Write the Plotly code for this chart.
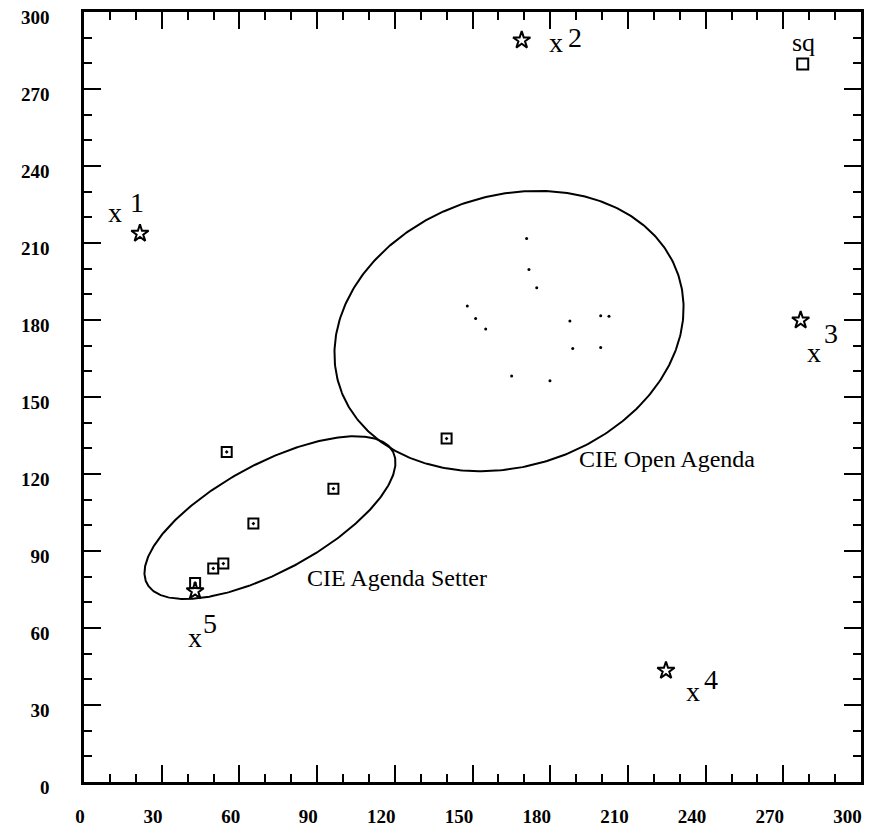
import numpy as np
import plotly.graph_objects as go

# ---- data ----
ideal_x = [21.6, 169.0, 276.7, 224.7, 42.9]
ideal_y = [213.7, 289.0, 179.9, 43.4, 74.4]
ideal_labels = ["1", "2", "3", "4", "5"]

agenda_x = [42.9, 49.9, 53.8, 55.1, 65.4, 96.3, 140.0]
agenda_y = [77.5, 83.2, 85.1, 128.6, 100.7, 114.3, 133.8]

sq_x = [277.5]
sq_y = [279.7]

open_x = [170.9, 171.8, 174.8, 148.0, 151.2, 155.1, 187.6, 199.5, 202.7, 188.7, 199.5, 165.1, 179.9]
open_y = [211.8, 199.7, 192.6, 185.5, 180.6, 176.5, 179.6, 181.7, 181.5, 168.9, 169.3, 158.2, 156.3]

# ellipses: center x, center y, semi-major, semi-minor, rotation (deg)
ellipse_names = ["CIE Open Agenda", "CIE Agenda Setter"]
ellipse_cx = [164.1, 71.8]
ellipse_cy = [175.7, 103.0]
ellipse_a = [68.9, 54.0]
ellipse_b = [52.7, 20.9]
ellipse_ang = [18.8, 28.6]
ellipse_label_x = [190.3, 85.3]
ellipse_label_y = [125.8, 79.5]

tick_vals = [0, 30, 60, 90, 120, 150, 180, 210, 240, 270, 300]
tick_text = ["0", "30", "60", "90", "120", "150", "180", "210", "240", "270", "300"]

# label offsets in pixels (styles/positions, not data)
x_off = [(-25, 21), (34, -2), (13, -32), (27, -21), (0, -46)]
n_off = [(-3, 31), (53, 3), (30, -13), (45, -9), (15, -32)]

fig = go.Figure()

t = np.linspace(0, 2 * np.pi, 400)
for cx, cy, a, b, ang in zip(ellipse_cx, ellipse_cy, ellipse_a, ellipse_b, ellipse_ang):
    th = np.deg2rad(ang)
    ex = cx + a * np.cos(t) * np.cos(th) - b * np.sin(t) * np.sin(th)
    ey = cy + a * np.cos(t) * np.sin(th) + b * np.sin(t) * np.cos(th)
    fig.add_trace(go.Scatter(x=ex, y=ey, mode="lines",
                             line=dict(color="black", width=2), hoverinfo="skip"))

fig.add_trace(go.Scatter(x=open_x, y=open_y, mode="markers",
                         marker=dict(symbol="circle", size=3, color="black")))
fig.add_trace(go.Scatter(x=agenda_x, y=agenda_y, mode="markers",
                         marker=dict(symbol="square-open-dot", size=10, color="black",
                                     line=dict(width=2, color="black"))))
fig.add_trace(go.Scatter(x=sq_x, y=sq_y, mode="markers",
                         marker=dict(symbol="square-open", size=11, color="black",
                                     line=dict(width=2, color="black"))))
fig.add_trace(go.Scatter(x=ideal_x, y=ideal_y, mode="markers",
                         marker=dict(symbol="star-open", size=13, color="black",
                                     line=dict(width=2, color="black"))))

ann_font = dict(family="Liberation Serif", size=28, color="black")
annotations = []
for xv, yv, lab, xo, no in zip(ideal_x, ideal_y, ideal_labels, x_off, n_off):
    annotations.append(dict(x=xv, y=yv, text="x", showarrow=False, font=ann_font,
                            xshift=xo[0], yshift=xo[1]))
    annotations.append(dict(x=xv, y=yv, text=lab, showarrow=False, font=ann_font,
                            xshift=no[0], yshift=no[1]))
annotations.append(dict(x=sq_x[0], y=sq_y[0], text="sq", showarrow=False,
                        font=dict(family="Liberation Serif", size=26, color="black"),
                        xshift=1, yshift=22))
for name, lx, ly in zip(ellipse_names, ellipse_label_x, ellipse_label_y):
    annotations.append(dict(x=lx, y=ly, text=name, showarrow=False, xanchor="left",
                            font=dict(family="Liberation Serif", size=24, color="black")))

axis_common = dict(
    range=[0, 300], tickmode="array", tickvals=tick_vals, ticktext=tick_text,
    showgrid=False, zeroline=False, automargin=False,
    showline=True, linecolor="black", linewidth=2.5, mirror="ticks",
    ticks="inside", ticklen=17, tickwidth=2, tickcolor="black",
    minor=dict(dtick=10, ticks="inside", ticklen=8, tickwidth=2, tickcolor="black"),
    tickfont=dict(family="Liberation Serif", size=19, color="black", weight="bold"),
    ticklabeloverflow="allow",
)

# page body has an 8px margin, so the figure is 16px smaller than the window
fig.update_layout(
    width=857, height=818,
    margin=dict(l=76, r=4, t=4, b=44),
    plot_bgcolor="white", paper_bgcolor="white",
    showlegend=False,
    annotations=annotations,
    xaxis=dict(**axis_common, ticklabelposition="outside left",
               ticklabelshift=3, ticklabelstandoff=15),
    yaxis=dict(**axis_common, ticklabelshift=5, ticklabelstandoff=28),
)

fig.write_html("out.html")
